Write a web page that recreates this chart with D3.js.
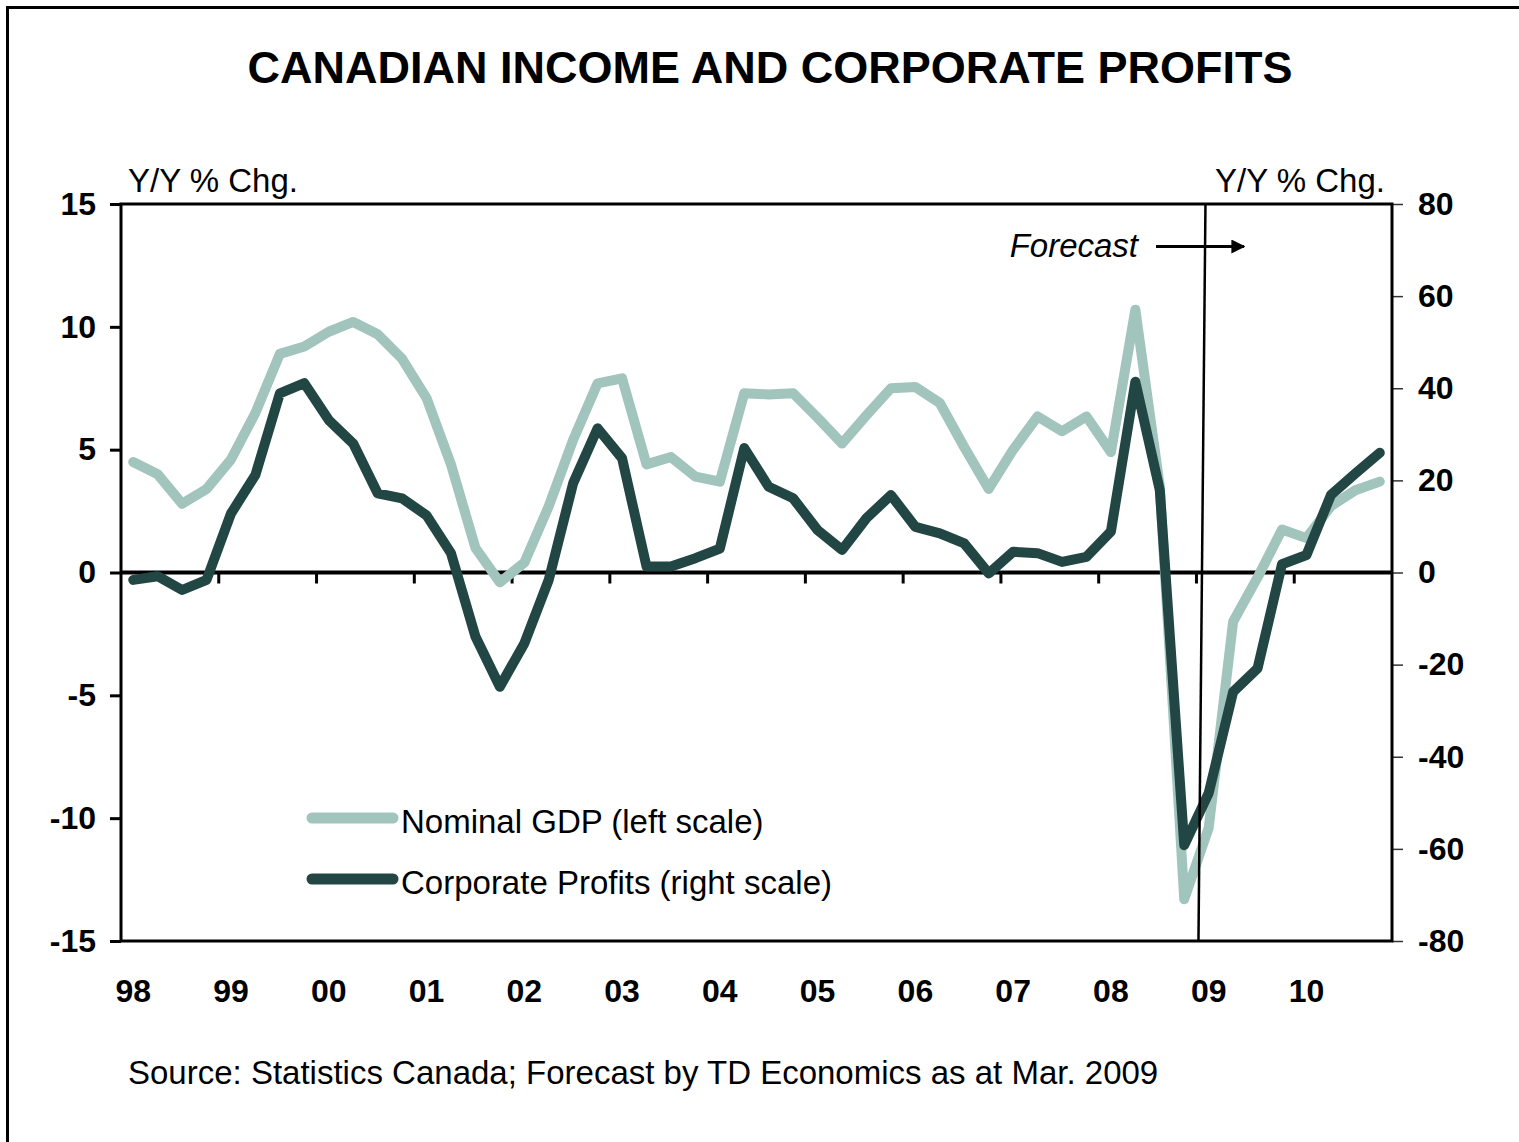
<!DOCTYPE html>
<html>
<head>
<meta charset="utf-8">
<script src="https://cdn.jsdelivr.net/npm/d3@7"></script>
<style>
  html, body { margin: 0; padding: 0; background: #ffffff; }
  svg { display: block; font-family: "Liberation Sans", Arial, sans-serif; }
</style>
</head>
<body>
<svg id="chart" width="1519" height="1142"></svg>
<script>
// ---------- DATA ----------
const yearLabels = ["98","99","00","01","02","03","04","05","06","07","08","09","10"];
const quarters = ["Q1","Q2","Q3","Q4"];
const categories = yearLabels.flatMap(y => quarters.map(q => y + q));

// Nominal GDP, Y/Y % chg (left scale)
const nominalGDP = [
  4.5, 4.0, 2.8, 3.4,
  4.6, 6.5, 8.9, 9.2,
  9.8, 10.2, 9.7, 8.7,
  7.1, 4.4, 1.0, -0.4,
  0.4, 2.7, 5.4, 7.7,
  7.9, 4.4, 4.7, 3.9,
  3.7, 7.3, 7.25, 7.3,
  6.3, 5.25, 6.4, 7.5,
  7.55, 6.9, 5.1, 3.4,
  5.0, 6.35, 5.75, 6.35,
  4.9, 10.7, 3.5, -13.3,
  -10.4, -2.0, -0.2, 1.75,
  1.4, 2.7, 3.35, 3.7
];

// Corporate profits, Y/Y % chg (right scale)
const corporateProfits = [
  -1.6, -0.8, -3.8, -1.6,
  12.8, 21.2, 38.9, 41.1,
  33.1, 28.0, 17.2, 16.1,
  12.4, 4.2, -13.9, -24.8,
  -15.4, -1.6, 19.4, 31.3,
  24.8, 1.3, 1.3, 3.1,
  5.2, 27.0, 18.6, 16.1,
  9.2, 4.9, 11.8, 16.8,
  9.9, 8.5, 6.3, -0.2,
  4.5, 4.2, 2.3, 3.4,
  8.9, 41.4, 17.9, -59.2,
  -47.9, -25.9, -20.8, 1.8,
  3.8, 16.8, 21.5, 26.0
];

const leftTicks = [-15, -10, -5, 0, 5, 10, 15];
const rightTicks = [-80, -60, -40, -20, 0, 20, 40, 60, 80];
const forecastStartIndex = 44; // forecast begins at the 09 boundary

const titleText = "CANADIAN INCOME AND CORPORATE PROFITS";
const unitText = "Y/Y % Chg.";
const legendLabels = ["Nominal GDP (left scale)", "Corporate Profits (right scale)"];
const sourceText = "Source: Statistics Canada; Forecast by TD Economics as at Mar. 2009";
const forecastText = "Forecast";

// ---------- LAYOUT ----------
const W = 1519, H = 1142;
const plot = { left: 121, right: 1392, top: 204, bottom: 941 };
const colGDP = "#a1c4bc";
const colProfit = "#224644";
const fmt = d => String(d);

const svg = d3.select("#chart");

// outer border (top and left visible)
svg.append("path")
  .attr("d", `M7.5,${H} L7.5,7.5 L${W + 5},7.5`)
  .attr("fill", "none").attr("stroke", "#000").attr("stroke-width", 3);

// scales
const x = d3.scaleBand().domain(categories).range([plot.left, plot.right]).padding(0);
const xc = c => x(c) + x.bandwidth() / 2;
const yL = d3.scaleLinear().domain([-15, 15]).range([plot.bottom, plot.top]);
const yR = d3.scaleLinear().domain([-80, 80]).range([plot.bottom, plot.top]);

// title
svg.append("text")
  .attr("x", 770).attr("y", 83)
  .attr("text-anchor", "middle")
  .attr("font-size", 45).attr("font-weight", "bold")
  .text(titleText);

// unit labels
svg.append("text").attr("x", 128).attr("y", 192)
  .attr("font-size", 33).text(unitText);
svg.append("text").attr("x", 1385).attr("y", 192)
  .attr("text-anchor", "end")
  .attr("font-size", 33).text(unitText);

// ---------- AXES ----------
const leftAxis = d3.axisLeft(yL).tickValues(leftTicks).tickSize(11).tickPadding(14).tickFormat(fmt);
const gL = svg.append("g").attr("transform", `translate(${plot.left},0)`).call(leftAxis);
gL.select(".domain").remove();
gL.selectAll(".tick line").attr("stroke", "#000").attr("stroke-width", 3);
gL.selectAll(".tick text").attr("font-size", 32).attr("font-weight", "bold")
  .attr("font-family", "Liberation Sans, Arial, sans-serif").attr("fill", "#000");

const rightAxis = d3.axisRight(yR).tickValues(rightTicks).tickSize(11).tickPadding(15).tickFormat(fmt);
const gR = svg.append("g").attr("transform", `translate(${plot.right},0)`).call(rightAxis);
gR.select(".domain").remove();
gR.selectAll(".tick line").attr("stroke", "#333").attr("stroke-width", 1.5);
gR.selectAll(".tick text").attr("font-size", 32).attr("font-weight", "bold")
  .attr("font-family", "Liberation Sans, Arial, sans-serif").attr("fill", "#000");

// frame
svg.append("rect")
  .attr("x", plot.left).attr("y", plot.top)
  .attr("width", plot.right - plot.left).attr("height", plot.bottom - plot.top)
  .attr("fill", "none").attr("stroke", "#000").attr("stroke-width", 3);

// zero line with year ticks (category axis crosses at 0)
const yearBoundaries = categories.filter((c, i) => i % 4 === 0 && i > 0);
const xAxis = d3.axisBottom(x).tickValues(yearBoundaries).tickSize(11).tickFormat("");
const gX = svg.append("g").attr("transform", `translate(0,${yL(0)})`).call(xAxis);
gX.select(".domain").remove();
gX.selectAll(".tick").attr("transform", d => `translate(${x(d)},0)`);
gX.selectAll(".tick line").attr("stroke", "#000").attr("stroke-width", 3);
svg.append("line")
  .attr("x1", plot.left).attr("x2", plot.right)
  .attr("y1", yL(0)).attr("y2", yL(0))
  .attr("stroke", "#000").attr("stroke-width", 4);

// year labels below the plot, centered on Q1 of each year
svg.append("g").selectAll("text")
  .data(yearLabels)
  .join("text")
  .attr("x", d => xc(d + "Q1"))
  .attr("y", 1002)
  .attr("text-anchor", "middle")
  .attr("font-size", 32).attr("font-weight", "bold")
  .text(d => d);

// ---------- LINES ----------
const lineL = d3.line().x((d, i) => xc(categories[i])).y(d => yL(d));
const lineR = d3.line().x((d, i) => xc(categories[i])).y(d => yR(d));

svg.append("path").datum(nominalGDP)
  .attr("d", lineL).attr("fill", "none")
  .attr("stroke", colGDP).attr("stroke-width", 10)
  .attr("stroke-linejoin", "round").attr("stroke-linecap", "round");

svg.append("path").datum(corporateProfits)
  .attr("d", lineR).attr("fill", "none")
  .attr("stroke", colProfit).attr("stroke-width", 10)
  .attr("stroke-linejoin", "round").attr("stroke-linecap", "round");

// forecast divider (slightly slanted as in the original)
const fx = x(categories[forecastStartIndex]);
svg.append("line")
  .attr("x1", fx + 9).attr("y1", plot.top)
  .attr("x2", fx + 2).attr("y2", plot.bottom)
  .attr("stroke", "#000").attr("stroke-width", 2.5);

// forecast annotation
svg.append("text")
  .attr("x", 1138).attr("y", 257)
  .attr("text-anchor", "end")
  .attr("font-size", 33).attr("font-style", "italic")
  .text(forecastText);
svg.append("defs").append("marker")
  .attr("id", "arrow").attr("viewBox", "0 0 10 10")
  .attr("refX", 9).attr("refY", 5)
  .attr("markerWidth", 5).attr("markerHeight", 5)
  .attr("markerUnits", "strokeWidth")
  .attr("orient", "auto")
  .append("path").attr("d", "M0,0 L10,5 L0,10 Z").attr("fill", "#000");
svg.append("line")
  .attr("x1", 1156).attr("y1", 246.5)
  .attr("x2", 1244).attr("y2", 246.5)
  .attr("stroke", "#000").attr("stroke-width", 2.8)
  .attr("marker-end", "url(#arrow)");

// ---------- LEGEND ----------
const legend = svg.append("g");
const legendItems = [
  { label: legendLabels[0], color: colGDP, y: 818 },
  { label: legendLabels[1], color: colProfit, y: 879 }
];
legendItems.forEach(it => {
  legend.append("line")
    .attr("x1", 312).attr("x2", 393)
    .attr("y1", it.y).attr("y2", it.y)
    .attr("stroke", it.color).attr("stroke-width", 11)
    .attr("stroke-linecap", "round");
  legend.append("text")
    .attr("x", 401).attr("y", it.y + 15)
    .attr("font-size", 33)
    .text(it.label);
});

// ---------- SOURCE ----------
svg.append("text")
  .attr("x", 128).attr("y", 1084)
  .attr("font-size", 33)
  .text(sourceText);
</script>
</body>
</html>
